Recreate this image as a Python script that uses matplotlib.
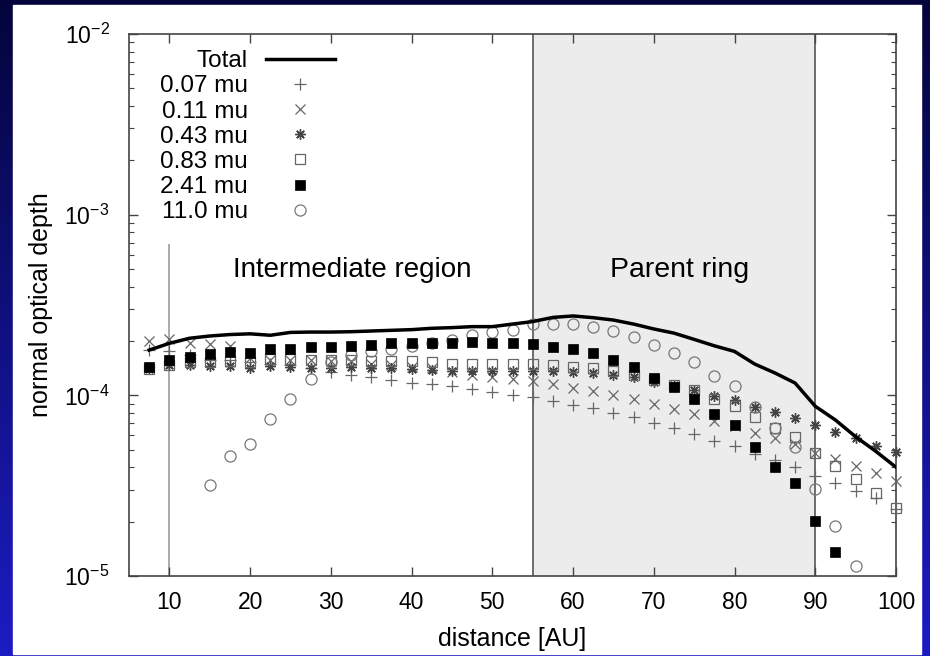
import numpy as np
import matplotlib.pyplot as plt
from matplotlib.colors import LinearSegmentedColormap
from matplotlib.patches import Rectangle

plt.rcParams['font.family'] = ['Liberation Sans', 'DejaVu Sans']
plt.rcParams['mathtext.fontset'] = 'custom'
plt.rcParams['mathtext.rm'] = 'Liberation Sans'
plt.rcParams['mathtext.it'] = 'Liberation Sans:italic'
plt.rcParams['mathtext.bf'] = 'Liberation Sans:bold'

nan = np.nan

# distance grid [AU]
distance = [7.5, 10, 12.5, 15, 17.5, 20, 22.5, 25, 27.5, 30, 32.5, 35, 37.5, 40,
            42.5, 45, 47.5, 50, 52.5, 55, 57.5, 60, 62.5, 65, 67.5, 70, 72.5, 75,
            77.5, 80, 82.5, 85, 87.5, 90, 92.5, 95, 97.5, 100]

# normal optical depth, in units of 1e-4
total = [1.78, 1.94, 2.07, 2.13, 2.17, 2.19, 2.15, 2.23, 2.24, 2.24, 2.25, 2.27, 2.29, 2.31,
         2.35, 2.37, 2.40, 2.40, 2.48, 2.56, 2.70, 2.75, 2.69, 2.61, 2.48, 2.33, 2.21, 2.04,
         1.88, 1.75, 1.49, 1.33, 1.17, 0.87, 0.73, 0.59, 0.49, 0.40]
tau_007 = [1.78, 1.75, 1.67, 1.57, 1.57, 1.53, 1.50, 1.47, 1.41, 1.35, 1.30, 1.27, 1.22, 1.17,
           1.15, 1.12, 1.08, 1.05, 1.00, 0.975, 0.933, 0.885, 0.848, 0.795, 0.755, 0.70, 0.657, 0.61,
           0.56, 0.525, 0.473, 0.439, 0.40, 0.359, 0.329, 0.295, 0.269, 0.234]
tau_011 = [2.01, 2.04, 1.95, 1.92, 1.88, 1.60, 1.57, 1.56, 1.57, 1.55, 1.55, 1.50, 1.47, 1.44,
           1.41, 1.35, 1.30, 1.27, 1.23, 1.20, 1.15, 1.10, 1.06, 1.00, 0.955, 0.89, 0.84, 0.785,
           0.724, 0.677, 0.617, 0.578, 0.538, 0.477, 0.443, 0.408, 0.370, 0.336]
tau_043 = [1.40, 1.47, 1.47, 1.45, 1.46, 1.41, 1.45, 1.44, 1.41, 1.41, 1.44, 1.41, 1.41, 1.40,
           1.38, 1.37, 1.36, 1.36, 1.36, 1.37, 1.36, 1.35, 1.33, 1.30, 1.26, 1.19, 1.14, 1.07,
           0.99, 0.94, 0.865, 0.805, 0.75, 0.683, 0.624, 0.583, 0.526, 0.488]
tau_083 = [1.39, 1.47, 1.52, 1.53, 1.55, 1.53, 1.58, 1.58, 1.57, 1.57, 1.57, 1.55, 1.55, 1.55,
           1.52, 1.49, 1.49, 1.49, 1.49, 1.50, 1.47, 1.44, 1.41, 1.36, 1.30, 1.22, 1.14, 1.07,
           0.96, 0.87, 0.755, 0.657, 0.59, 0.482, 0.408, 0.344, 0.289, 0.237]
tau_241 = [1.44, 1.57, 1.64, 1.69, 1.74, 1.72, 1.81, 1.81, 1.84, 1.85, 1.88, 1.91, 1.94, 1.96,
           1.96, 1.96, 1.97, 1.94, 1.94, 1.92, 1.85, 1.80, 1.71, 1.56, 1.43, 1.25, 1.11, 0.96,
           0.79, 0.685, 0.515, 0.403, 0.329, 0.202, 0.136, nan, nan, nan]
tau_110 = [nan, nan, nan, 0.318, 0.46, 0.536, 0.736, 0.95, 1.23, 1.53, 1.67, 1.76, 1.80, 1.88,
           1.95, 2.02, 2.16, 2.23, 2.30, 2.48, 2.48, 2.48, 2.38, 2.26, 2.11, 1.90, 1.72, 1.52,
           1.28, 1.13, 0.865, 0.657, 0.52, 0.303, 0.19, 0.113, nan, nan]

labels = ['0.07 mu', '0.11 mu', '0.43 mu', '0.83 mu', '2.41 mu', '11.0 mu']
ring_edges = [55, 90]
inner_edge = 10
inner_line_top = 6.9e-4

x = np.array(distance)
scale = 1e-4

fig = plt.figure(figsize=(9.3, 6.56), dpi=100)

# slide background: blue gradient with a white panel
bg = fig.add_axes([0, 0, 1, 1], zorder=-5)
grad = np.linspace(0, 1, 256).reshape(-1, 1)
cmap = LinearSegmentedColormap.from_list('slide', ['#1c1cc4', '#04043c'])
bg.imshow(grad, aspect='auto', cmap=cmap, extent=[0, 1, 0, 1], origin='lower')
bg.add_patch(Rectangle((13 / 930, 2 / 656), (921 - 13) / 930, (651 - 2) / 656,
                       color='white', zorder=2))
bg.set_xlim(0, 1)
bg.set_ylim(0, 1)
bg.set_axis_off()

ax = fig.add_axes([129 / 930, 80 / 656, 767 / 930, 542 / 656])
ax.set_facecolor('none')

# parent ring shading and region lines
ax.axvspan(ring_edges[0], ring_edges[1], color='#ececec', zorder=0, lw=0)
for e in ring_edges:
    ax.axvline(e, color='#555555', lw=1.2, zorder=1)
ax.vlines(inner_edge, 1e-5, inner_line_top, color='#aaaaaa', lw=1.4, zorder=1)

ax.plot(x, np.array(total) * scale, color='black', lw=2.5, label='Total', zorder=5)
pts = dict(ls='none', clip_on=False)
ax.plot(x, np.array(tau_007) * scale, marker='+', ms=8, mew=0.9,
        color='#666666', label=labels[0], zorder=3, **pts)
ax.plot(x, np.array(tau_011) * scale, marker='x', ms=7.5, mew=0.9,
        color='#666666', label=labels[1], zorder=3, **pts)
ax.plot(x, np.array(tau_043) * scale, marker=(8, 2, 0), ms=7.5, mew=1.0,
        color='#444444', label=labels[2], zorder=3, **pts)
ax.plot(x, np.array(tau_083) * scale, marker='s', ms=7.5, mew=0.9,
        mfc='none', mec='#666666', label=labels[3], zorder=3, **pts)
ax.plot(x, np.array(tau_241) * scale, marker='s', ms=7.5, mew=0.5,
        color='black', label=labels[4], zorder=4, **pts)
ax.plot(x, np.array(tau_110) * scale, marker='o', ms=8, mew=0.9,
        mfc='none', mec='#777777', label=labels[5], zorder=3, **pts)

ax.set_yscale('log')
ax.set_ylim(1e-5, 1e-2)
ax.set_xlim(5, 100)
ax.set_xticks(range(10, 101, 10))

ax.tick_params(which='both', direction='in', top=True, right=True, color='#444444')
ax.tick_params(which='major', length=6.5, width=1.0, labelsize=16.5, pad=11)
ax.tick_params(axis='y', which='major', pad=14)
ax.tick_params(which='minor', length=3.5, width=0.8)
for s in ax.spines.values():
    s.set_color('#444444')
    s.set_linewidth(1.2)

ax.set_xlabel('distance [AU]', fontsize=18, labelpad=9)
ax.set_ylabel('normal optical depth', fontsize=18, labelpad=8)

ax.text(32.6, 4.94e-4, 'Intermediate region', fontsize=20, ha='center', va='center')
ax.text(73.2, 4.94e-4, 'Parent ring', fontsize=20.5, ha='center', va='center')

ax.legend(loc='upper left', bbox_to_anchor=(0.040, 0.970), frameon=False,
          markerfirst=False, fontsize=17.5, handlelength=2.85, handletextpad=0.74,
          labelspacing=0.13, borderpad=0, borderaxespad=0)

fig.savefig('out.png', dpi=100)
